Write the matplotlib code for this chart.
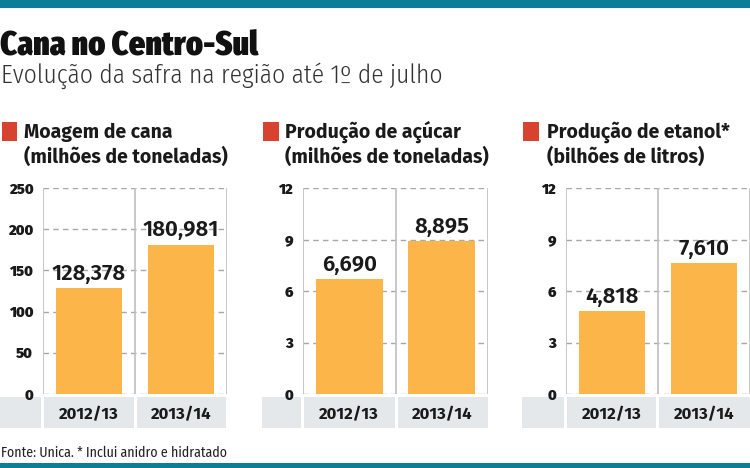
import matplotlib.pyplot as plt
from matplotlib.patches import Rectangle

W, H = 750, 468

seasons = ['2012/13', '2013/14']
moagem = [128.378, 180.981]
acucar = [6.690, 8.895]
etanol = [4.818, 7.610]
titles = [('Moagem de cana', '(milhões de toneladas)'),
          ('Produção de açúcar', '(milhões de toneladas)'),
          ('Produção de etanol*', '(bilhões de litros)')]
yticks_list = [[0, 50, 100, 150, 200, 250], [0, 3, 6, 9, 12], [0, 3, 6, 9, 12]]

BAR = '#fbb548'
RED = '#d8432f'
TEAL = '#0b7f98'
BAND = '#e5e8eb'
GRID = '#a8a8a8'
INK = '#1a1a1a'
XCOND = ['Fira Sans Extra Condensed', 'DejaVu Sans']
COND = ['Fira Sans Condensed', 'DejaVu Sans']
SANS = ['Fira Sans', 'DejaVu Sans']


def frac(x0, y0, x1, y1):
    # pixel box (top-left origin) -> figure fraction [l, b, w, h]
    return [x0 / W, 1 - y1 / H, (x1 - x0) / W, (y1 - y0) / H]


def rect(fig, x0, y0, x1, y1, color):
    l, b, w, h = frac(x0, y0, x1, y1)
    fig.patches.append(Rectangle((l, b), w, h, transform=fig.transFigure,
                                 facecolor=color, edgecolor='none', zorder=-1))


fig = plt.figure(figsize=(7.5, 4.68), dpi=100)
fig.patch.set_facecolor('white')

# top / bottom teal bars
rect(fig, 0, 0, 750, 8, TEAL)
rect(fig, 0, 463, 750, 468, TEAL)

fig.text(0 / W, 1 - 56 / H, 'Cana no Centro-Sul', family=XCOND,
         weight=900, fontsize=25, color='#111111', va='baseline')
fig.text(1 / W, 1 - 83 / H, 'Evolução da safra na região até 1º de julho',
         family=COND, weight=300, fontsize=18.3, color='#333333', va='baseline')
fig.text(1 / W, 1 - 457 / H, 'Fonte: Unica. * Inclui anidro e hidratado',
         family=COND, fontsize=10, color='#222222', va='baseline')

panels = [
    dict(data=moagem, ax=(43, 227), cells=[(0, 41), (44, 134), (137, 226)],
         sq=(2, 17), tx=24, ymax=250),
    dict(data=acucar, ax=(303, 488), cells=[(262, 301), (304, 395), (398, 488)],
         sq=(263, 279), tx=285, ymax=12),
    dict(data=etanol, ax=(566, 750), cells=[(522, 564), (567, 656), (659, 750)],
         sq=(523, 539), tx=547, ymax=12),
]

for p, (t1, t2), yt in zip(panels, titles, yticks_list):
    # header
    rect(fig, p['sq'][0], 122, p['sq'][1], 141, RED)
    fig.text(p['tx'] / W, 1 - 138 / H, t1, family=SANS, weight='bold',
             fontsize=14, color=INK, va='baseline')
    fig.text(p['tx'] / W, 1 - 163 / H, t2, family=SANS, weight='bold',
             fontsize=14, color=INK, va='baseline')

    # category band
    for c0, c1 in p['cells']:
        rect(fig, c0, 397, c1, 428, BAND)

    ax = fig.add_axes(frac(p['ax'][0], 188, p['ax'][1], 394))
    ax.set_facecolor('none')
    x = range(len(seasons))
    ax.bar(x, p['data'], width=0.72, color=BAR, zorder=3)
    ax.set_xlim(-0.5, 1.5)
    ax.set_ylim(0, p['ymax'])
    ax.set_yticks(yt)
    ax.set_yticklabels([str(v) for v in yt], family=SANS, weight=900,
                       fontsize=10.5, color=INK)
    ax.set_xticks(list(x))
    ax.set_xticklabels(seasons, family=SANS, weight='bold', fontsize=12,
                       color=INK)
    ax.tick_params(length=0)
    ax.tick_params(axis='y', pad=7)
    ax.tick_params(axis='x', pad=9)
    for s in ax.spines.values():
        s.set_visible(False)
    for v in yt:
        ax.axhline(v, color=GRID, lw=1, ls=(0, (4, 3)), zorder=1)
    for xi in (-0.5, 0.5, 1.5):
        ax.axvline(xi, color='#bfbfbf', lw=1.2, zorder=2)
    for xi, v in zip(x, p['data']):
        ax.annotate(f'{v:.3f}'.replace('.', ','), (xi, v), xytext=(0, 3),
                    textcoords='offset points', ha='center', va='bottom',
                    family=SANS, weight=600, fontsize=16, color=INK,
                    zorder=4)

fig.savefig('out.png', dpi=100)
